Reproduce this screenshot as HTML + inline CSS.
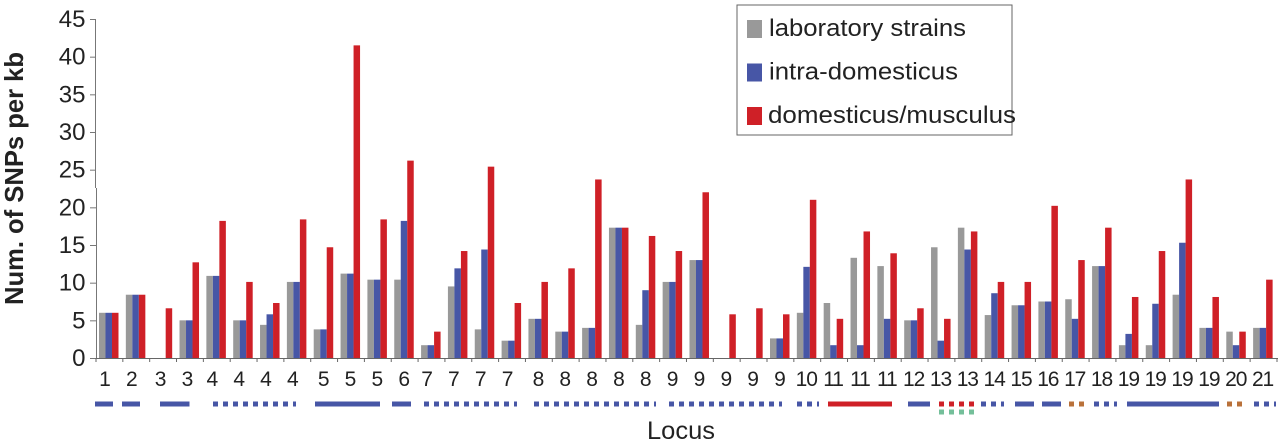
<!DOCTYPE html>
<html lang="en">
<head>
<meta charset="utf-8">
<title>SNPs per kb by locus</title>
<style>
html,body{margin:0;padding:0;background:#fff;width:1280px;height:441px;overflow:hidden}
svg{display:block;font-family:"Liberation Sans",sans-serif}
</style>
</head>
<body>
<svg id="chart" width="1280" height="441" viewBox="0 0 1280 441" xmlns="http://www.w3.org/2000/svg">
  <g id="bars"></g>
  <g id="axes"></g>
  <g id="tracks">
    <g fill="none" stroke-width="5">
      <path stroke="#4756a6" d="M95 404H113M122 404H140M160 404H189.500M315 404H380M392 404H411M908 404H930M1015 404H1034M1042 404H1061M1127 404H1219"/>
      <path stroke="#4756a6" stroke-dasharray="5 5" d="M213 404H296M424 404H517M534 404H656M669 404H782M797 404H819M981 404H1004M1094 404H1117M1254 404H1276"/>
      <path stroke="#cf2027" d="M828 404H892"/>
      <path stroke="#cf2027" stroke-dasharray="5 5" d="M939 404H974"/>
      <path stroke="#74bf9a" stroke-dasharray="5 5" d="M939 412H974"/>
      <path stroke="#b9713a" stroke-dasharray="5 5" d="M1069 404H1085M1227 404H1242"/>
    </g>
  </g>
  <text transform="translate(23,305) rotate(-90)" font-size="26" font-weight="bold" fill="#222" textLength="253" lengthAdjust="spacingAndGlyphs">Num. of SNPs per kb</text>
  <text x="647" y="439" font-size="25" fill="#222" textLength="68" lengthAdjust="spacingAndGlyphs">Locus</text>
  <g>
    <rect x="737" y="5" width="275" height="130" fill="none" stroke="#666" stroke-width="1"/>
    <rect x="747" y="20" width="15" height="18" fill="#999"/>
    <text x="769" y="36" font-size="24" fill="#222" textLength="197" lengthAdjust="spacingAndGlyphs">laboratory strains</text>
    <rect x="747" y="63.500" width="15" height="18" fill="#4756a6"/>
    <text x="769" y="79.500" font-size="24" fill="#222" textLength="189" lengthAdjust="spacingAndGlyphs">intra-domesticus</text>
    <rect x="747" y="107" width="15" height="18" fill="#cf2027"/>
    <text x="768" y="123" font-size="24" fill="#222" textLength="248" lengthAdjust="spacingAndGlyphs">domesticus/musculus</text>
  </g>
</svg>
<script>
var categories = ["1","2","3","3","4","4","4","4","5","5","5","6","7","7","7","7","8","8","8","8","8","9","9","9","9","9","10","11","11","11","12","13","13","14","15","16","17","18","19","19","19","19","20","21"];
var laboratory = [6,8.4,0,5,10.9,5,4.4,10.1,3.8,11.2,10.4,10.4,1.7,9.5,3.8,2.3,5.2,3.5,4,17.3,4.4,10.1,13,0,0,2.6,6,7.3,13.3,12.2,5,14.7,17.3,5.7,7,7.5,7.8,12.2,1.7,1.7,8.4,4,3.5,4];
var intraDomesticus = [6,8.4,0,5,10.9,5,5.8,10.1,3.8,11.2,10.4,18.2,1.7,11.9,14.4,2.3,5.2,3.5,4,17.3,9,10.1,13,0,0,2.6,12.1,1.7,1.7,5.2,5,2.3,14.4,8.6,7,7.5,5.2,12.2,3.2,7.2,15.3,4,1.7,4];
var domesticusMusculus = [6,8.4,6.6,12.7,18.2,10.1,7.3,18.4,14.7,41.5,18.4,26.2,3.5,14.2,25.4,7.3,10.1,11.9,23.7,17.3,16.2,14.2,22,5.8,6.6,5.8,21,5.2,16.8,13.9,6.6,5.2,16.8,10.1,10.1,20.2,13,17.3,8.1,14.2,23.7,8.1,3.5,10.4];
var yTicks = [0,5,10,15,20,25,30,35,40,45];

var NS = "http://www.w3.org/2000/svg";
var X0 = 96, BAND = 26.84, Y0 = 358, YTOP = 19, YMAX = 45, BAR = 6.5, PAD = 3;
function xBand(i){ return X0 + i * BAND; }
function yScale(v){ return Y0 - v * (Y0 - YTOP) / YMAX; }
function labelNudge(i){
  if (i === 2 || i === 3) return -3;
  if (i < 8) return -5;
  if (i < 12) return -1;
  if (i < 16) return -5;
  return -1;
}
function make(tag, parent, attrs){
  var el = document.createElementNS(NS, tag);
  for (var k in attrs) el.setAttribute(k, attrs[k]);
  parent.appendChild(el);
  return el;
}
var barsG = document.getElementById("bars");
var axesG = document.getElementById("axes");
var seriesList = [
  {key:"laboratory", values:laboratory, color:"#999999"},
  {key:"intra", values:intraDomesticus, color:"#4756a6"},
  {key:"domesticus-musculus", values:domesticusMusculus, color:"#cf2027"}
];
seriesList.forEach(function(s, si){
  s.values.forEach(function(v, i){
    var r = make("rect", barsG, {
      x: xBand(i) + PAD + si * BAR,
      y: yScale(v),
      width: BAR,
      height: Y0 - yScale(v),
      fill: s.color
    });
    
    
  });
});
var axisUpper = make("line", axesG, {x1:95.5, y1:YTOP, x2:95.5, y2:188, stroke:"#777", "stroke-width":1});


var axisLower = make("line", axesG, {x1:96.5, y1:188, x2:96.5, y2:Y0, stroke:"#777", "stroke-width":1});


var axisX = make("line", axesG, {x1:90, y1:Y0 + 0.5, x2:1278, y2:Y0 + 0.5, stroke:"#666", "stroke-width":1});


yTicks.forEach(function(t){
  var y = yScale(t);
  var m = make("line", axesG, {x1:90, y1:y + 0.5, x2:96, y2:y + 0.5, stroke:"#777", "stroke-width":1});
  
  
  var l = make("text", axesG, {x:85.5, y:y + 8, "text-anchor":"end", "font-size":24, fill:"#222"});
  
  
  l.textContent = t;
});
categories.forEach(function(c, i){
  var x = xBand(i);
  var m = make("line", axesG, {x1:x, y1:Y0, x2:x, y2:Y0 + 4, stroke:"#666", "stroke-width":1});
  
  
  var l = make("text", axesG, {x:x + BAND / 2 + labelNudge(i), y:386, "text-anchor":"middle", "font-size":21, "letter-spacing":"-1.1", fill:"#222"});
  
  
  l.textContent = c;
});
var last = make("line", axesG, {x1:1277, y1:Y0, x2:1277, y2:Y0 + 4, stroke:"#666", "stroke-width":1});


</script>
</body>
</html>
